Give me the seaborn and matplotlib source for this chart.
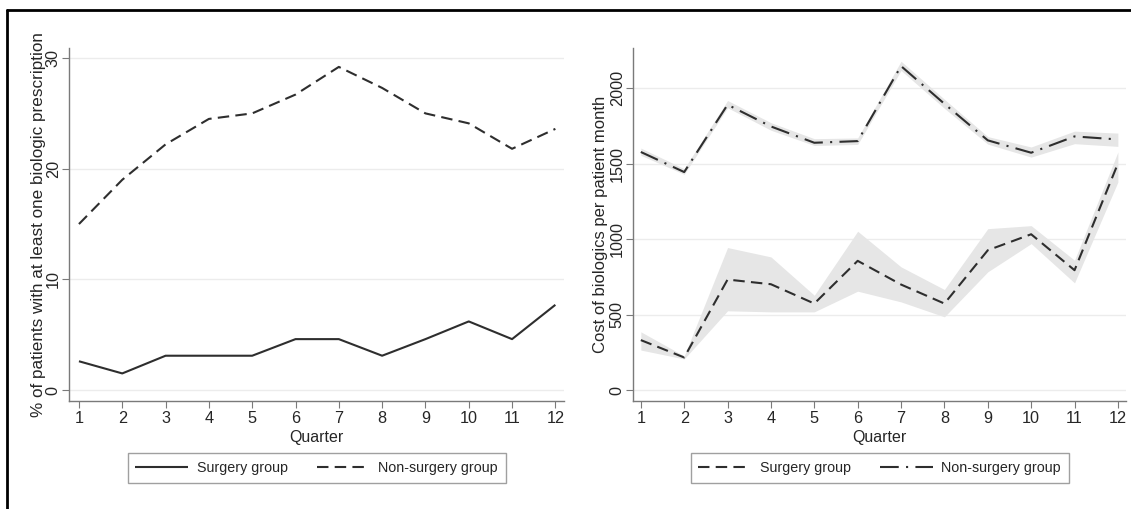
import numpy as np
import pandas as pd
import seaborn as sns
import matplotlib.pyplot as plt
from matplotlib.lines import Line2D

# Du lieu
quarters = list(range(1, 13))

pct_surgery = [2.6, 1.5, 3.1, 3.1, 3.1, 4.6, 4.6, 3.1, 4.6, 6.2, 4.6, 7.7]
pct_nonsurgery = [15.0, 19.0, 22.2, 24.5, 25.0, 26.7, 29.2, 27.3, 25.0, 24.1, 21.8, 23.6]

cost_surgery = [331, 216, 732, 701, 573, 856, 699, 573, 926, 1032, 794, 1500]
cost_surgery_lo = [265, 206, 525, 518, 518, 655, 584, 485, 783, 970, 710, 1378]
cost_surgery_hi = [386, 226, 944, 882, 628, 1052, 816, 666, 1069, 1089, 860, 1577]

cost_nonsurgery = [1577, 1444, 1890, 1746, 1638, 1649, 2146, 1896, 1654, 1572, 1680, 1660]
cost_nonsurgery_lo = [1555, 1429, 1870, 1721, 1620, 1627, 2117, 1866, 1629, 1543, 1632, 1614]
cost_nonsurgery_hi = [1603, 1466, 1918, 1771, 1665, 1670, 2178, 1926, 1679, 1610, 1715, 1702]

groups = ["Surgery group", "Non-surgery group"]

sns.set_theme(style="white")
plt.rcParams["font.family"] = ["Liberation Sans", "DejaVu Sans"]

fig = plt.figure(figsize=(11.31, 5.09), dpi=100)
ax1 = fig.add_axes([0.061, 0.212, 0.4377, 0.6935])
ax2 = fig.add_axes([0.5597, 0.212, 0.436, 0.6935])

line_col = "#2e2e2e"
axis_col = "#7a7a7a"
dash = (5.5, 3)
longdash_dot = (9, 3.5, 1, 3.5)

# Panel trai
df1 = pd.DataFrame({"Quarter": quarters * 2,
                    "val": pct_surgery + pct_nonsurgery,
                    "group": [groups[0]] * 12 + [groups[1]] * 12})
sns.lineplot(data=df1, x="Quarter", y="val", hue="group", style="group",
             palette=[line_col, line_col], dashes=[(1, 0), dash],
             linewidth=1.5, ax=ax1, legend=False)
ax1.set_ylim(-1.0, 30.9)
ax1.set_xlim(0.77, 12.2)
ax1.set_yticks([0, 10, 20, 30])
ax1.set_ylabel("% of patients with at least one biologic prescription", fontsize=12.3, labelpad=0)

# Panel phai
ax2.fill_between(quarters, cost_surgery_lo, cost_surgery_hi, color="#e6e6e6", lw=0)
ax2.fill_between(quarters, cost_nonsurgery_lo, cost_nonsurgery_hi, color="#e6e6e6", lw=0)
df2 = pd.DataFrame({"Quarter": quarters * 2,
                    "val": cost_surgery + cost_nonsurgery,
                    "group": [groups[0]] * 12 + [groups[1]] * 12})
sns.lineplot(data=df2, x="Quarter", y="val", hue="group", style="group",
             palette=[line_col, line_col], dashes=[dash, longdash_dot],
             linewidth=1.5, ax=ax2, legend=False)
ax2.set_ylim(-73, 2265)
ax2.set_xlim(0.82, 12.19)
ax2.set_yticks([0, 500, 1000, 1500, 2000])
ax2.set_ylabel("Cost of biologics per patient month", fontsize=12, labelpad=1)

legend_styles = {ax1: [(1, 0), dash], ax2: [dash, longdash_dot]}
for ax in (ax1, ax2):
    ax.set_xticks(quarters)
    ax.set_xlabel("Quarter", fontsize=11.5, labelpad=3)
    ax.grid(axis="y", color="#ececec", lw=1)
    for s in ("top", "right"):
        ax.spines[s].set_visible(False)
    for s in ("left", "bottom"):
        ax.spines[s].set_color(axis_col)
        ax.spines[s].set_linewidth(1)
    ax.tick_params(axis="both", direction="out", length=5, width=0.8, color=axis_col,
                   left=True, bottom=True, labelsize=11.7, pad=2)
    ax.tick_params(axis="y", pad=1)
    for lab in ax.get_yticklabels():
        lab.set_rotation(90)
        lab.set_va("center")
    handles = [Line2D([], [], color=line_col, lw=1.5, dashes=d) for d in legend_styles[ax]]
    ax.legend(handles, groups, loc="upper center", bbox_to_anchor=(0.5, -0.148), ncol=2,
              frameon=True, fancybox=False, edgecolor="#888888", handlelength=3.7,
              handletextpad=0.6, columnspacing=2.0, fontsize=10.3, borderpad=0.55,
              borderaxespad=0)

# Khung ngoai
fig.add_artist(Line2D([0.0062, 1.0], [0.980, 0.980], transform=fig.transFigure, color="black", lw=2))
fig.add_artist(Line2D([0.0066, 0.0066], [0.0, 0.980], transform=fig.transFigure, color="black", lw=2))

fig.savefig("out.png", dpi=100)
